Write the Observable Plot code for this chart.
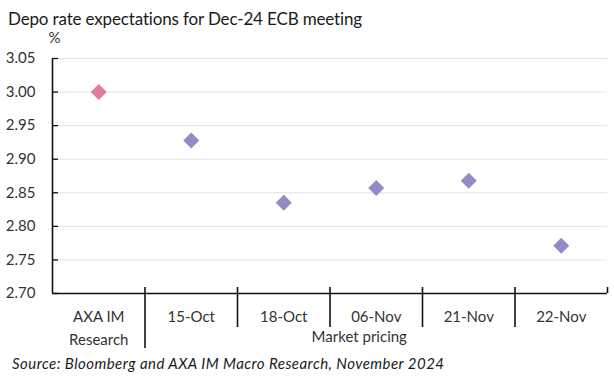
<!DOCTYPE html>
<html><head><meta charset="utf-8">
<script src="https://cdn.jsdelivr.net/npm/d3@7"></script>
<script src="https://cdn.jsdelivr.net/npm/@observablehq/plot@0.6"></script>
<style>
body{margin:0;background:#fff;}
#wrap{position:relative;width:614px;height:378px;overflow:hidden;font-family:Lato,sans-serif;}
#title{position:absolute;left:8px;top:10px;font-size:17px;line-height:1;color:#1a1a1a;white-space:nowrap;letter-spacing:-0.15px;}
#caption{position:absolute;left:12px;top:356px;font-size:15px;line-height:1;font-style:italic;color:#1a1a1a;white-space:nowrap;letter-spacing:0.45px;}
#chart{position:absolute;left:0;top:0;}
</style></head><body>
<div id="wrap"><div id="chart"></div>
<div id="title">Depo rate expectations for Dec-24 ECB meeting</div>
<div id="caption">Source: Bloomberg and AXA IM Macro Research, November 2024</div>
</div>
<script>
const categories = ["AXA IM Research", "15-Oct", "18-Oct", "06-Nov", "21-Nov", "22-Nov"];
const labelLine1 = ["AXA IM", "15-Oct", "18-Oct", "06-Nov", "21-Nov", "22-Nov"];
const groups = ["AXA IM Research", "Market pricing", "Market pricing", "Market pricing", "Market pricing", "Market pricing"];
const values = [3.00, 2.928, 2.835, 2.857, 2.868, 2.771];
const yTicks = [2.70, 2.75, 2.80, 2.85, 2.90, 2.95, 3.00, 3.05];
const groupColors = ["#e27aa0", "#928cc4"];

const idx = d3.range(categories.length);
const data = idx.map(i => ({i, cat: categories[i], label: labelLine1[i], value: values[i], group: groups[i]}));
const bounds = d3.range(categories.length + 1).map(i => i - 0.5);
const groupNames = Array.from(new Set(groups));
const groupSpans = groupNames.map(g => {
  const ii = idx.filter(i => groups[i] === g);
  return {group: g, center: (d3.min(ii) + d3.max(ii)) / 2};
});
const line2 = [{x: groupSpans[0].center, text: "Research"}];
const line2b = [{x: groupSpans[1].center, text: groupNames[1]}];

const plot = Plot.plot({
  width: 614, height: 378,
  marginTop: 58, marginBottom: 85, marginLeft: 52, marginRight: 7,
  style: {fontFamily: "Lato, sans-serif", fontSize: "15px", color: "#333", background: "transparent"},
  x: {domain: [-0.5, categories.length - 0.5], axis: null},
  y: {domain: [2.70, 3.05], axis: null},
  color: {domain: groupNames, range: groupColors},
  marks: [
    Plot.gridY(yTicks.slice(1), {stroke: "#e2e2e2", strokeOpacity: 1, strokeWidth: 1}),
    Plot.axisY(yTicks, {tickSize: 0, tickPadding: 17, tickFormat: d3.format(".2f"), fill: "#333", fontSize: 15, label: null}),
    Plot.ruleY(yTicks, {stroke: "#111", strokeWidth: 1.3, insetRight: 549}),
    Plot.ruleX([bounds[0]], {stroke: "#111", strokeWidth: 1.6}),
    Plot.ruleY([2.70], {stroke: "#111", strokeWidth: 1.6}),
    Plot.ruleX([bounds[1]], {stroke: "#111", strokeWidth: 1.6, insetTop: 229, insetBottom: -55}),
    Plot.ruleX(bounds.slice(2, -1), {stroke: "#111", strokeWidth: 1.6, insetTop: 229, insetBottom: -34}),
    Plot.ruleX([bounds[bounds.length - 1]], {stroke: "#111", strokeWidth: 1.6, insetTop: 229}),
    Plot.dot(data, {x: "i", y: "value", symbol: "diamond2", r: 7.2, fill: "group", stroke: null}),
    Plot.text(data, {x: "i", text: "label", frameAnchor: "bottom", lineAnchor: "middle", dy: 24, fill: "#333", fontSize: 15}),
    Plot.text(line2, {x: "x", text: "text", frameAnchor: "bottom", lineAnchor: "middle", dy: 47, fill: "#333", fontSize: 15}),
    Plot.text(line2b, {x: "x", text: "text", frameAnchor: "bottom", lineAnchor: "middle", dy: 44, dx: -17, fill: "#333", fontSize: 15}),
    Plot.text(["%"], {frameAnchor: "top-left", dx: -4, dy: -20, lineAnchor: "middle", fill: "#333", fontSize: 15})
  ]
});
document.getElementById("chart").appendChild(plot);
</script>
</body></html>
